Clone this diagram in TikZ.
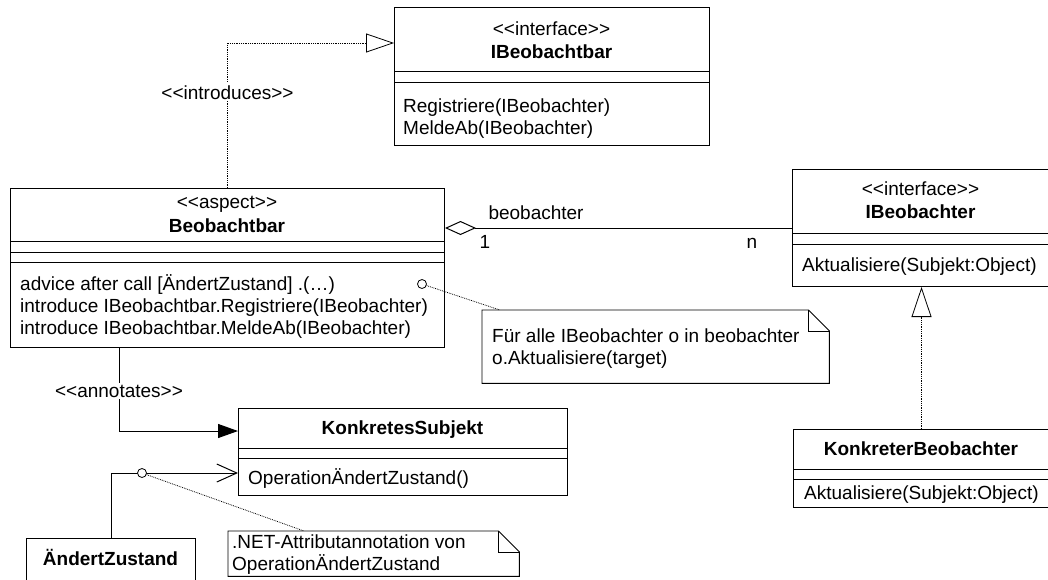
\documentclass[tikz,border=0pt]{standalone}
\usepackage{fontspec}
\setmainfont{Liberation Sans}
\usetikzlibrary{arrows.meta, positioning, calc}
\newcommand{\umlfont}{\fontsize{19pt}{22pt}\selectfont}
\newcommand{\ltlt}{<\kern0pt<}
\newcommand{\gtgt}{>\kern0pt>}
\tikzset{
  cls/.style     = {rectangle, draw, line width=1pt, anchor=north west,
                    inner sep=0pt},
  notebox/.style = {rectangle, anchor=north west, inner sep=0pt},
  noteline/.style = {line width=0.9pt},
  compart/.style = {line width=1pt},
  stereo/.style  = {anchor=base, inner sep=0pt, font=\umlfont},
  clsname/.style = {anchor=base, inner sep=0pt, font=\umlfont\bfseries},
  member/.style  = {anchor=base west, inner sep=0pt, font=\umlfont},
  lbl/.style     = {fill=white, inner sep=2pt, font=\umlfont},
  port/.style    = {circle, draw, fill=white, line width=0.8pt,
                    minimum size=9pt, inner sep=0pt},
  assoc/.style   = {line width=1pt},
  dep/.style     = {line width=0.8pt, densely dotted},
}

\begin{document}
\begin{tikzpicture}[x=1pt, y=-1pt]
  \useasboundingbox (0,0) rectangle (1048,579);

  % class boxes
  \node[cls, minimum width=315pt, minimum height=138pt] (ibar) at (394,7) {};
  \node[cls, minimum width=434pt, minimum height=159pt] (bbar) at (10,188) {};
  \node[cls, minimum width=257pt, minimum height=117pt] (ibeob) at (792,169) {};
  \node[cls, minimum width=329pt, minimum height=87pt] (ks) at (238,408) {};
  \node[cls, minimum width=256pt, minimum height=78pt] (kb) at (793,429) {};
  \node[cls, minimum width=169pt, minimum height=60pt] (azst) at (26,538) {};

  % compartments
  \draw[compart] ($(ibar.north west)+(0,64)$) -- ($(ibar.north east)+(0,64)$);
  \draw[compart] ($(ibar.north west)+(0,75)$) -- ($(ibar.north east)+(0,75)$);
  \draw[compart] ($(bbar.north west)+(0,53)$) -- ($(bbar.north east)+(0,53)$);
  \draw[compart] ($(bbar.north west)+(0,64)$) -- ($(bbar.north east)+(0,64)$);
  \draw[compart] ($(bbar.north west)+(0,74)$) -- ($(bbar.north east)+(0,74)$);
  \draw[compart] ($(ibeob.north west)+(0,64)$) -- ($(ibeob.north east)+(0,64)$);
  \draw[compart] ($(ibeob.north west)+(0,75)$) -- ($(ibeob.north east)+(0,75)$);
  \draw[compart] ($(ks.north west)+(0,40)$) -- ($(ks.north east)+(0,40)$);
  \draw[compart] ($(ks.north west)+(0,50)$) -- ($(ks.north east)+(0,50)$);
  \draw[compart] ($(kb.north west)+(0,40)$) -- ($(kb.north east)+(0,40)$);
  \draw[compart] ($(kb.north west)+(0,50)$) -- ($(kb.north east)+(0,50)$);

  % texts of the classes
  \node[stereo] (ibar-st) at (551.5,35) {\ltlt interface\gtgt};
  \node[clsname] (ibar-nm) at (551.5,58) {IBeobachtbar};
  \node[member] (ibar-m1) at (403,112) {Registriere(IBeobachter)};
  \node[member] (ibar-m2) at (403,134) {MeldeAb(IBeobachter)};

  \node[stereo] (bbar-st) at (227,208) {\ltlt aspect\gtgt};
  \node[clsname] (bbar-nm) at (227,232) {Beobachtbar};
  \node[member] (bbar-m1) at (20,290) {advice after call [ÄndertZustand] .(…)};
  \node[member] (bbar-m2) at (20,312) {introduce IBeobachtbar.Registriere(IBeobachter)};
  \node[member] (bbar-m3) at (20,334) {introduce IBeobachtbar.MeldeAb(IBeobachter)};

  \node[stereo] (ibeob-st) at (920.5,195) {\ltlt interface\gtgt};
  \node[clsname] (ibeob-nm) at (920.5,218) {IBeobachter};
  \node[member] (ibeob-m1) at (802,271) {Aktualisiere(Subjekt:Object)};

  \node[clsname] (ks-nm) at (402.5,434) {KonkretesSubjekt};
  \node[member] (ks-m1) at (248,484) {OperationÄndertZustand()};

  \node[clsname] (kb-nm) at (921,455) {KonkreterBeobachter};
  \node[member] (kb-m1) at (804,499) {Aktualisiere(Subjekt:Object)};

  \node[clsname] (azst-nm) at (110.5,565) {ÄndertZustand};

  % notes
  \node[notebox, minimum width=347pt, minimum height=73pt] (note1) at (482,310) {};
  \draw[noteline] (note1.north west) -- ($(note1.north east)+(-21,0)$)
    -- ($(note1.north east)+(0,21)$) -- (note1.south east) -- (note1.south west) -- cycle;
  \draw[noteline] ($(note1.north east)+(-21,0)$) |- ($(note1.north east)+(0,21)$);
  \node[member] (note1-l1) at (492,342) {Für alle IBeobachter o in beobachter};
  \node[member] (note1-l2) at (492,364) {o.Aktualisiere(target)};

  \node[notebox, minimum width=291pt, minimum height=45pt] (note2) at (228,531) {};
  \draw[noteline] (note2.north west) -- ($(note2.north east)+(-21,0)$)
    -- ($(note2.north east)+(0,21)$) -- (note2.south east) -- (note2.south west) -- cycle;
  \draw[noteline] ($(note2.north east)+(-21,0)$) |- ($(note2.north east)+(0,21)$);
  \node[member] (note2-l1) at (232,548) {.NET-Attributannotation von};
  \node[member] (note2-l2) at (232,570) {OperationÄndertZustand};

  % connectors
  \draw[dep, -{Triangle[open, length=28pt, width=19pt]}] (bbar.north)
    |- node[lbl, pos=0.33] (intro) {\ltlt introduces\gtgt} ($(ibar.north west)+(0,36)$);
  \draw[dep, -{Triangle[open, length=30pt, width=20pt]}] (kb.north) -- (kb.north |- ibeob.south);
  \draw[assoc, {Diamond[open, length=31pt, width=14pt]}-]
    ($(bbar.north east)+(0,40)$) --
    node[pos=0, anchor=base west, xshift=43pt, yshift=9pt, font=\umlfont, inner sep=0pt] (role) {beobachter}
    node[pos=0, anchor=base, xshift=40pt, yshift=-20pt, font=\umlfont, inner sep=0pt] (mult1) {1}
    node[pos=1, anchor=base, xshift=-40pt, yshift=-20pt, font=\umlfont, inner sep=0pt] (multn) {n}
    ($(ibeob.north west)+(0,59)$);
  \draw[assoc, -{Triangle[length=20pt, width=14pt]}] ($(bbar.south west)+(109,0)$)
    |- node[lbl, pos=0.26] (annot) {\ltlt annotates\gtgt} ($(ks.north west)+(0,23)$);
  \draw[assoc, -{Straight Barb[length=20pt, width=18pt]}] (azst.north) |- ($(ks.north west)+(0,65)$);

  \node[port] (advpt) at (422,284) {};
  \node[port] (annpt) at (142,473) {};
  \draw[dep] (advpt) -- ($(note1.north west)+(18,0)$);
  \draw[dep] (annpt) -- ($(note2.north west)+(76,0)$);
\end{tikzpicture}
\end{document}
